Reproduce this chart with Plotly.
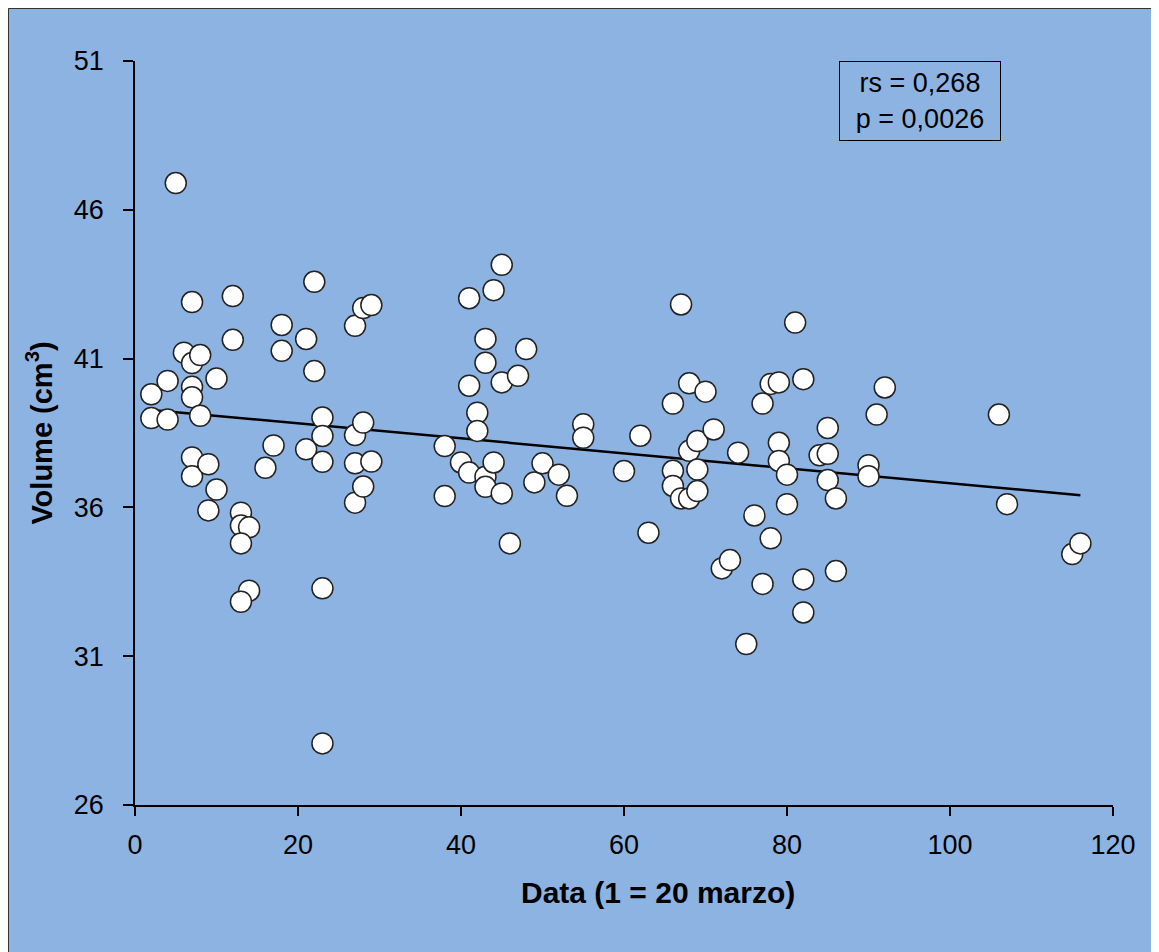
import numpy as np
import plotly.graph_objects as go

# day number (1 = 20 March) and volume in cm3
giorno = [5, 2, 2, 4, 4, 6, 7, 7, 7, 7, 7, 7, 8, 8, 9, 9, 10, 10, 12, 12,
          13, 13, 14, 13, 14, 13, 16, 17, 18, 18, 21, 21, 22, 22, 23, 23, 23, 23, 23,
          27, 27, 27, 27, 28, 28, 28, 29, 29, 38, 38, 40, 41, 41, 41, 42, 42,
          43, 43, 43, 43, 44, 44, 45, 45, 45, 46, 47, 48, 49, 50, 52, 53, 55, 55,
          60, 62, 63, 66, 66, 66, 67, 67, 68, 68, 68, 69, 69, 69, 70, 71, 72, 73,
          74, 75, 76, 77, 77, 78, 78, 79, 79, 79, 80, 80, 81, 82, 82, 82, 84, 85,
          85, 85, 86, 86, 90, 90, 91, 92, 106, 107, 115, 116]
volume = [46.9, 39.8, 39.0, 40.25, 38.95, 41.2, 42.9, 40.85, 40.05, 39.7, 37.68, 37.05,
          41.12, 39.08, 37.45, 35.9, 40.33, 36.6, 43.1, 41.63,
          35.82, 35.39, 35.33, 34.79, 33.2, 32.83, 37.33, 38.08, 42.13, 41.26,
          41.66, 37.95, 43.58, 40.58, 39.02, 38.4, 37.53, 33.28, 28.07,
          42.1, 38.43, 37.48, 36.16, 42.7, 38.85, 36.7, 42.8, 37.54,
          38.06, 36.38, 37.51, 43.03, 40.09, 37.17, 39.18, 38.57,
          41.66, 40.86, 37.03, 36.69, 43.3, 37.51, 44.15, 40.2, 36.47, 34.79,
          40.42, 41.32, 36.84, 37.48, 37.1, 36.39, 38.79, 38.34,
          37.22, 38.41, 35.15, 39.49, 37.23, 36.72, 42.82, 36.3, 40.17, 37.9, 36.3,
          38.23, 37.27, 36.55, 39.89, 38.62, 33.95, 34.23,
          37.84, 31.41, 35.73, 39.49, 33.43, 40.15, 34.96, 40.2, 38.17, 37.56,
          37.1, 36.11, 42.21, 40.31, 33.58, 32.47, 37.75, 38.67,
          37.8, 36.92, 36.3, 33.86, 37.42, 37.05, 39.12, 40.03, 39.12, 36.11, 34.43, 34.79]

x_ticks = [0, 20, 40, 60, 80, 100, 120]
y_ticks = [26, 31, 36, 41, 46, 51]

BLU = 'rgb(141,179,226)'
W, H = 1159, 952
L, R, T, B = 127, 54, 53, 155
PW, PH = W - L - R, H - T - B

# linear trend from the data
m, q = np.polyfit(giorno, volume, 1)
xt = np.array([min(giorno), max(giorno)])

fig = go.Figure()

fig.add_trace(go.Scatter(
    x=xt, y=m * xt + q,
    mode='lines',
    line=dict(color='black', width=2.5),
    hoverinfo='skip'
))

fig.add_trace(go.Scatter(
    x=giorno, y=volume,
    mode='markers',
    marker=dict(size=21, color='white', line=dict(color='#222222', width=1.5)),
    cliponaxis=False
))

# statistics box
fig.add_annotation(
    x=(839 - 8 - L + 81) / PW, y=1, xref='paper', yref='paper',
    xanchor='center', yanchor='top',
    text='rs = 0,268<br>p = 0,0026',
    showarrow=False,
    font=dict(family='Arial, Liberation Sans', size=27, color='black'),
    width=146, height=64,
    bordercolor='black', borderwidth=1, borderpad=7, align='center'
)

# x title sits a bit right of centre in the original
fig.add_annotation(
    x=0.535, y=-88 / PH, xref='paper', yref='paper',
    xanchor='center', yanchor='middle',
    text='<b>Data (1 = 20 marzo)</b>',
    showarrow=False,
    font=dict(family='Arial, Liberation Sans', size=30, color='black')
)

# thin frame on the top and left edges of the figure
fl = (0.5 - L) / PW
ft = 1 + (T - 0.5) / PH
fig.add_shape(type='line', xref='paper', yref='paper',
              x0=fl, x1=fl, y0=-B / PH, y1=ft,
              line=dict(color='#333333', width=1))
fig.add_shape(type='line', xref='paper', yref='paper',
              x0=fl, x1=1 + R / PW, y0=ft, y1=ft,
              line=dict(color='#333333', width=1))

axis_font = dict(family='Arial, Liberation Sans', size=27, color='black')

fig.update_layout(
    width=W, height=H, autosize=False,
    margin=dict(l=L, r=R, t=T, b=B),
    paper_bgcolor=BLU,
    plot_bgcolor=BLU,
    showlegend=False,
    xaxis=dict(
        range=[0, 120], tickvals=x_ticks,
        showgrid=False, zeroline=False,
        showline=True, linecolor='black', linewidth=1.5,
        ticks='outside', ticklen=9, tickcolor='black', tickwidth=1.5,
        ticklabelstandoff=6,
        tickfont=axis_font
    ),
    yaxis=dict(
        range=[26, 51], tickvals=y_ticks,
        showgrid=False, zeroline=False,
        showline=True, linecolor='black', linewidth=1.5,
        ticks='outside', ticklen=10, tickcolor='black', tickwidth=1.5,
        ticklabelstandoff=14,
        tickfont=axis_font,
        title=dict(text='<b>Volume (cm<sup>3</sup>)</b>', standoff=13,
                   font=dict(family='Arial, Liberation Sans', size=29, color='black'))
    )
)

fig.write_html("out.html")
